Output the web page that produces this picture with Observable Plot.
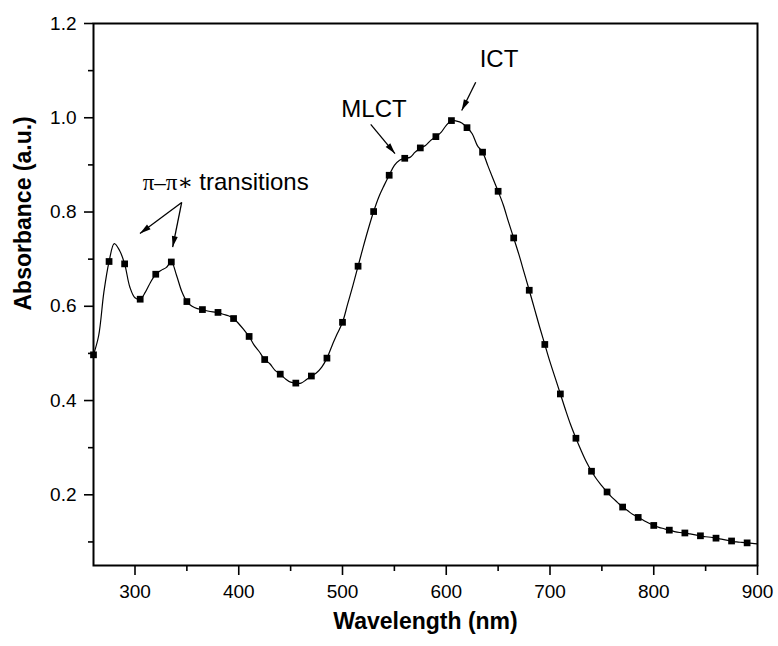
<!DOCTYPE html>
<html><head><meta charset="utf-8">
<script src="https://cdn.jsdelivr.net/npm/d3@7"></script>
<script src="https://cdn.jsdelivr.net/npm/@observablehq/plot@0.6"></script>
<style>body{margin:0;background:#fff}</style>
</head><body><div id="chart"></div>
<script>
// ---- data ----
const wavelength = [260,265,270,275,280,285,290,295,300,305,310,315,320,325,330,335,340,345,350,355,360,365,370,375,380,385,390,395,400,405,410,415,420,425,430,435,440,445,450,455,460,465,470,475,480,485,490,495,500,505,510,515,520,525,530,535,540,545,550,555,560,565,570,575,580,585,590,595,600,605,610,615,620,625,630,635,640,645,650,655,660,665,670,675,680,685,690,695,700,705,710,715,720,725,730,735,740,745,750,755,760,765,770,775,780,785,790,795,800,805,810,815,820,825,830,835,840,845,850,855,860,865,870,875,880,885,890,895,900];
const absorbance = [0.497,0.538,0.630,0.695,0.733,0.719,0.690,0.641,0.618,0.615,0.630,0.651,0.668,0.676,0.682,0.694,0.666,0.632,0.610,0.600,0.595,0.593,0.590,0.588,0.587,0.583,0.580,0.574,0.563,0.550,0.536,0.517,0.503,0.487,0.478,0.464,0.456,0.446,0.439,0.437,0.437,0.444,0.452,0.459,0.471,0.490,0.517,0.542,0.566,0.605,0.644,0.685,0.726,0.765,0.801,0.832,0.856,0.878,0.899,0.910,0.914,0.916,0.927,0.936,0.941,0.952,0.960,0.969,0.984,0.994,0.993,0.989,0.979,0.966,0.941,0.927,0.899,0.871,0.844,0.815,0.779,0.745,0.710,0.672,0.634,0.595,0.556,0.519,0.482,0.448,0.414,0.380,0.348,0.320,0.294,0.270,0.250,0.233,0.219,0.206,0.194,0.184,0.174,0.166,0.158,0.152,0.146,0.140,0.135,0.131,0.128,0.125,0.122,0.120,0.119,0.117,0.115,0.113,0.111,0.110,0.108,0.106,0.104,0.102,0.100,0.099,0.098,0.097,0.096];
const markerStart = 260, markerStep = 15;

const xMajorTicks = [300,400,500,600,700,800,900];
const xMinorTicks = [350,450,550,650,750,850];
const yMajorTicks = [0.2,0.4,0.6,0.8,1.0,1.2];
const yMinorTicks = [0.1,0.3,0.5,0.7,0.9,1.1];

const labelTexts = ["π–π∗", "transitions", "MLCT", "ICT"];
const labelX = [307.4, 362.0, 530.4, 650.8];
const labelY = [0.846, 0.846, 1.001, 1.107];
const labelFont = ["'Liberation Serif', 'DejaVu Serif', serif", "'Liberation Sans', Arial, sans-serif", "'Liberation Sans', Arial, sans-serif", "'Liberation Sans', Arial, sans-serif"];
const labelSize = [23, 24, 24, 24];
const labelAnchor = ["start", "start", "middle", "middle"];

const arrowX1 = [345.0, 345.0, 527.2, 628.4];
const arrowY1 = [0.8204, 0.8204, 0.986, 1.0755];
const arrowX2 = [304.8, 336.3, 550.6, 614.9];
const arrowY2 = [0.7546, 0.7256, 0.924, 1.0155];

// ---- layout ----
const W = 778, H = 646, ML = 93, MR = 21, MT = 23, MB = 81;
const xDomain = [260, 900], yDomain = [0.05, 1.2];
const kx = (W - ML - MR) / (xDomain[1] - xDomain[0]);
const ky = (H - MT - MB) / (yDomain[1] - yDomain[0]);

const data = wavelength.map((w, i) => ({w, a: absorbance[i]}));
const markers = data.filter(d => (d.w - markerStart) % markerStep === 0);
const labels = labelTexts.map((t, i) => ({t, x: labelX[i], y: labelY[i], font: labelFont[i], size: labelSize[i], anchor: labelAnchor[i]}));
const arrows = arrowX1.map((x1, i) => {
  const dx = (arrowX2[i] - x1) * kx, dy = -(arrowY2[i] - arrowY1[i]) * ky;
  return {x1, y1: arrowY1[i], x2: arrowX2[i], y2: arrowY2[i], rot: Math.atan2(dx, -dy) * 180 / Math.PI};
});
const sans = "'Liberation Sans', Arial, Helvetica, sans-serif";

const textMarks = labels.map(l => Plot.text([l], {x: "x", y: "y", text: "t", textAnchor: l.anchor, lineAnchor: "bottom", fontSize: l.size, fontFamily: l.font, fill: "black"}));

const chart = Plot.plot({
  width: W, height: H,
  marginLeft: ML, marginRight: MR, marginTop: MT, marginBottom: MB,
  x: {domain: xDomain},
  y: {domain: yDomain},
  style: {fontFamily: sans, fontSize: "19px", color: "black", background: "white"},
  marks: [
    Plot.axisX(xMinorTicks, {tickSize: 6, tickFormat: () => "", strokeWidth: 1.6, label: null}),
    Plot.axisX(xMajorTicks, {tickSize: 10, tickPadding: 9, tickFormat: d => String(d), strokeWidth: 1.6, label: null, fontSize: 19}),
    Plot.axisY(yMinorTicks, {tickSize: 5, tickFormat: () => "", strokeWidth: 1.6, label: null}),
    Plot.axisY(yMajorTicks, {tickSize: 9, tickPadding: 8, tickFormat: d3.format(".1f"), strokeWidth: 1.6, label: null, fontSize: 19}),
    Plot.frame({stroke: "black", strokeWidth: 2}),
    Plot.line(data, {x: "w", y: "a", curve: "catmull-rom", stroke: "black", strokeWidth: 1.2}),
    Plot.dot(markers, {x: "w", y: "a", symbol: "square", r: 3.8, fill: "black", stroke: "none"}),
    Plot.link(arrows, {x1: "x1", y1: "y1", x2: "x2", y2: "y2", stroke: "black", strokeWidth: 1.3}),
    Plot.vector(arrows, {x: "x2", y: "y2", rotate: "rot", length: 11, r: 3, shape: "spike", anchor: "end", fill: "black", stroke: "none"}),
    ...textMarks,
    Plot.text(["Wavelength (nm)"], {text: d => d, frameAnchor: "bottom", dy: 63, fontWeight: "bold", fontSize: 23, fontFamily: sans, fill: "black"}),
    Plot.text(["Absorbance (a.u.)"], {text: d => d, frameAnchor: "left", rotate: -90, dx: -70, dy: 16, fontWeight: "bold", fontSize: 23, fontFamily: sans, fill: "black"})
  ]
});
document.getElementById("chart").appendChild(chart);
</script>
</body></html>
